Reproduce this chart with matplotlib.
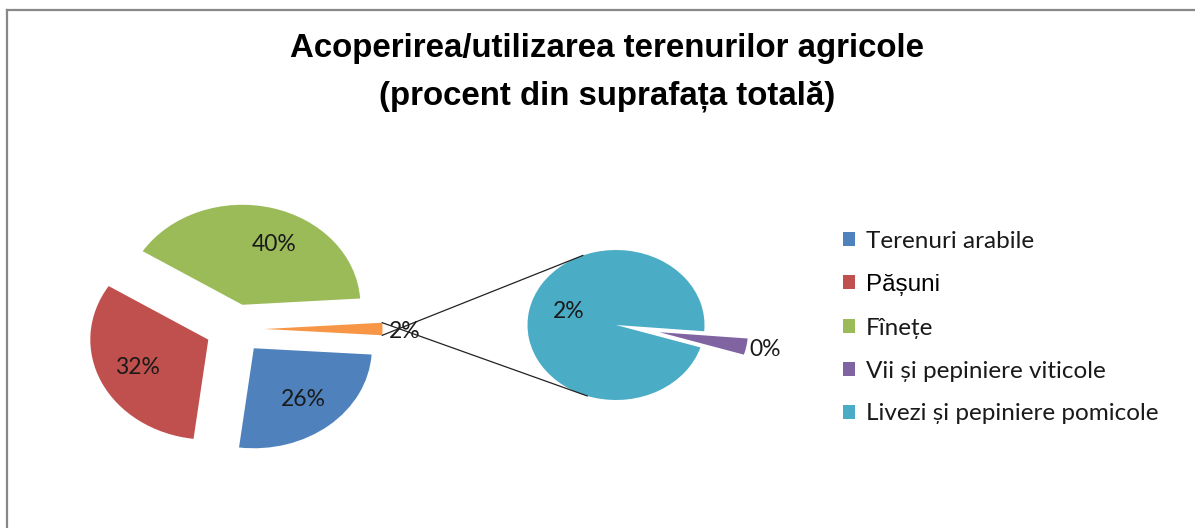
import matplotlib
matplotlib.use('Agg')
import matplotlib.pyplot as plt
from matplotlib.lines import Line2D
import numpy as np

# ---- data ----
title_lines = ["Acoperirea/utilizarea terenurilor agricole",
               "(procent din suprafața totală)"]
main_labels = ["Terenuri arabile", "Pășuni", "Fînețe"]
main_values = [26, 32, 40]
detail_labels = ["Vii și pepiniere viticole", "Livezi și pepiniere pomicole"]
detail_values = [0.07, 1.93]

colors_main = ['#4F81BD', '#C0504D', '#9BBB59']
color_other = '#F79646'
colors_detail = ['#8064A2', '#4BACC6']

W, H, DPI = 1195, 528, 100
S = 1.18  # horizontal stretch of the original picture

fig = plt.figure(figsize=(W / DPI, H / DPI), dpi=DPI)
ax = fig.add_axes([0, 0, 1, 1])

other = sum(detail_values)
left_vals = main_values + [other]
left_cols = colors_main + [color_other]
total = sum(left_vals)

# left pie: "other" slice centred on 0 degrees
start_left = -180.0 * other / total
c1 = (235 / S, H - 329)
r1 = 100
wl, _ = ax.pie(left_vals, colors=left_cols, startangle=start_left, counterclock=False,
               center=c1, radius=r1, explode=[0.25 * r1] * len(left_vals),
               wedgeprops=dict(linewidth=0))

# right pie (breakdown of "other")
c2 = (616 / S, H - 325)
r2 = 75
wr, _ = ax.pie(detail_values, colors=colors_detail, startangle=-4.8, counterclock=False,
               center=c2, radius=r2, explode=[0.5 * r2, 0.0],
               wedgeprops=dict(linewidth=0))

ax.set_aspect('auto')
ax.set_xlim(0, W / S)
ax.set_ylim(0, H)
ax.axis('off')

lab_font = dict(family=['Lato', 'DejaVu Sans'], fontsize=16.5, color='#1a1a1a')


def wedge_point(w, d, dang=0.0):
    th = np.deg2rad((w.theta1 + w.theta2) / 2 + dang)
    cx, cy = w.center
    return cx + d * w.r * np.cos(th), cy + d * w.r * np.sin(th)


# percent labels (share of the total)
label_angle_shift = [0, 0, -10]
for w, v, da in zip(wl[:3], main_values, label_angle_shift):
    x, y = wedge_point(w, 0.66, da)
    ax.text(x, y, f"{v / total * 100:.0f}%", ha='center', va='center', **lab_font)
x, y = wedge_point(wl[3], 1.05)
ax.text(x, y - 2, f"{other / total * 100:.0f}%", ha='left', va='center', **lab_font)
x, y = wedge_point(wr[0], 1.22)
ax.text(x, y, f"{detail_values[0] / total * 100:.0f}%", ha='center', va='center', **lab_font)
x, y = wedge_point(wr[1], 0.56, -8)
ax.text(x, y, f"{detail_values[1] / total * 100:.0f}%", ha='center', va='center', **lab_font)

# connector lines
wo = wl[3]
ox, oy = wo.center
for t_o, t_r in ((wo.theta1, 112), (wo.theta2, 251)):
    p0 = (ox + wo.r * np.cos(np.deg2rad(t_o)), oy + wo.r * np.sin(np.deg2rad(t_o)))
    p1 = (c2[0] + r2 * np.cos(np.deg2rad(t_r)), c2[1] + r2 * np.sin(np.deg2rad(t_r)))
    ax.plot([p0[0], p1[0]], [p0[1], p1[1]], color='#222222', lw=0.9)

# title
for i, line in enumerate(title_lines):
    fig.text(607 / W, 1 - (48 + 48 * i) / H, line, ha='center', va='center',
             fontsize=23.8, fontweight='bold', family=['Liberation Sans', 'DejaVu Sans'],
             color='black')

# legend
leg = fig.legend(handles=[wl[0], wl[1], wl[2], wr[0], wr[1]],
                 labels=main_labels + detail_labels,
                 loc='upper left', bbox_to_anchor=(843 / W, 1 - 231 / H),
                 frameon=False, borderpad=0, borderaxespad=0,
                 handlelength=0.5, handleheight=0.5, handletextpad=0.43,
                 labelspacing=0.9,
                 prop=dict(family=['Lato', 'DejaVu Sans'], size=17.5))
for t in leg.get_texts():
    t.set_color('#1a1a1a')
leg.get_texts()[1].set_family(['Liberation Sans', 'DejaVu Sans'])
leg.get_texts()[1].set_fontsize(17.5)
leg.get_texts()[1].set_color('black')

# outer frame
fc = '#888888'
fig.add_artist(Line2D([7 / W, 7 / W], [0, 1 - 10 / H], transform=fig.transFigure, color=fc, lw=1.6))
fig.add_artist(Line2D([7 / W, 1], [1 - 10 / H, 1 - 10 / H], transform=fig.transFigure, color=fc, lw=1.6))

fig.savefig('out.png', dpi=DPI)
